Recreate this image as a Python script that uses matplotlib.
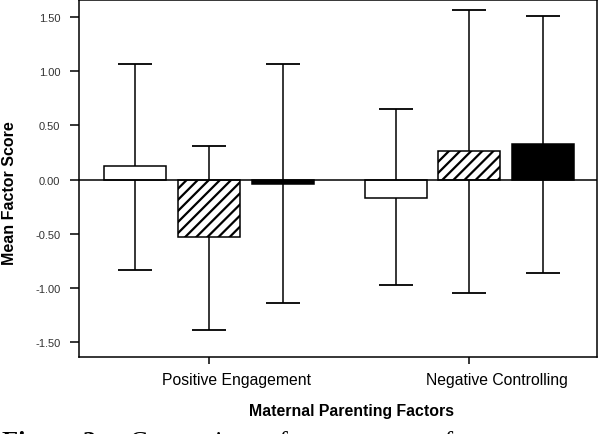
import numpy as np
import matplotlib
matplotlib.use("Agg")
import matplotlib.pyplot as plt
import matplotlib.transforms as mtransforms

# Data
factors = ["Positive Engagement", "Negative Controlling"]
groups = ["Group 1", "Group 2", "Group 3"]
means = [[0.126, -0.535, -0.037],
         [-0.166, 0.268, 0.326]]
err_low = [[-0.84, -1.39, -1.14],
           [-0.97, -1.05, -0.86]]
err_high = [[1.07, 0.31, 1.07],
            [0.65, 1.57, 1.51]]
y_ticks = [-1.5, -1.0, -0.5, 0.0, 0.5, 1.0, 1.5]

plt.rcParams['font.family'] = ['Liberation Sans', 'DejaVu Sans']
plt.rcParams['hatch.linewidth'] = 1.6

fig = plt.figure(figsize=(6, 4.35), dpi=100)
ax = fig.add_axes([0.1317, 0.177, 0.8633, 0.8207])

styles = [dict(color='white', hatch=None),
          dict(color='white', hatch='///'),
          dict(color='black', hatch=None)]
pitch = 0.284
width = 0.238
x = np.arange(len(factors))

for i, st in enumerate(styles):
    pos = x + (i - 1) * pitch
    m = np.array([means[k][i] for k in range(len(factors))])
    lo = np.array([err_low[k][i] for k in range(len(factors))])
    hi = np.array([err_high[k][i] for k in range(len(factors))])
    ax.errorbar(pos, m, yerr=[m - lo, hi - m], fmt='none', ecolor='black',
                elinewidth=1.1, capsize=12.2, capthick=1.3, zorder=1)
    ax.bar(pos, m, width, color=st['color'], hatch=st['hatch'],
           edgecolor='black', linewidth=1.1, zorder=2)

ax.axhline(0, color='black', linewidth=1.1, zorder=3)

ax.set_xlim(-0.5, 1.49)
ax.set_ylim(-1.64, 1.66)
ax.set_yticks(y_ticks)
ax.set_yticklabels([f"{v:.2f}" for v in y_ticks], fontsize=8, color='#333333')
ax.set_xticks(x)
ax.set_xticklabels(factors, fontsize=11.3)
ax.tick_params(axis='y', length=6.5, width=1.1, pad=7)
ax.tick_params(axis='x', length=5, width=1.1, pad=6)
for s in ax.spines.values():
    s.set_linewidth(1.1)

# category labels sit a bit right of their ticks
shift = mtransforms.ScaledTranslation(0.27, 0, fig.dpi_scale_trans)
for lab in ax.get_xticklabels():
    lab.set_transform(lab.get_transform() + shift)

ax.set_xlabel("Maternal Parenting Factors", fontsize=11.45, fontweight='bold')
ax.set_ylabel("Mean Factor Score", fontsize=11.5, fontweight='bold')
ax.yaxis.set_label_coords(-0.119, 0.462)
ax.xaxis.set_label_coords(0.527, -0.128)

# caption cut off at the bottom of the image
fig.text(0.004, -0.032, "Figure 2.", fontsize=19, fontweight='bold',
         family='Liberation Serif', va='baseline', ha='left')
fig.text(0.217, -0.032, "Comparison of mean scores of", fontsize=19,
         family='Liberation Serif', va='baseline', ha='left')

fig.savefig("out.png", dpi=100)
